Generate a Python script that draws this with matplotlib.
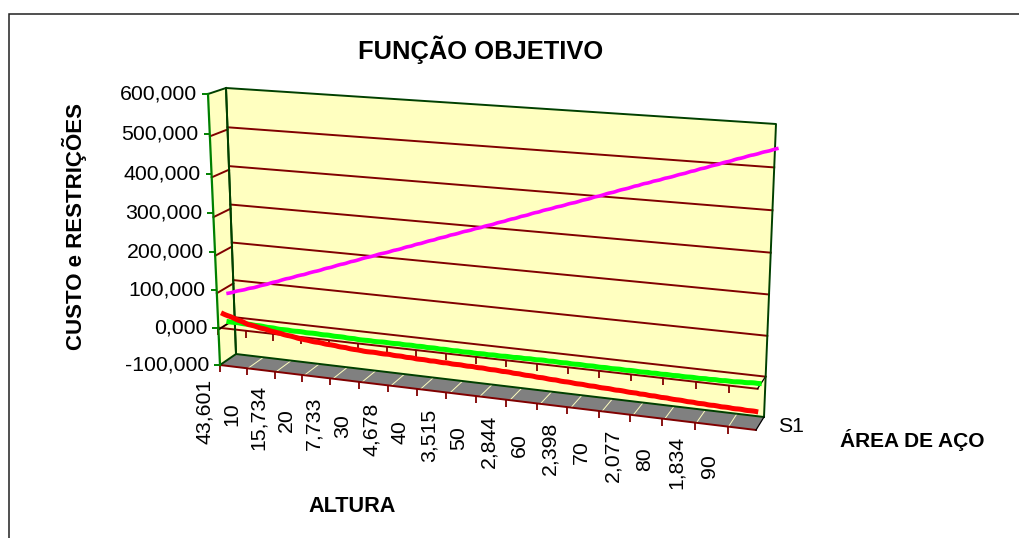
import numpy as np
import matplotlib
matplotlib.use("Agg")
import matplotlib.pyplot as plt
from matplotlib.transforms import Transform
from matplotlib.patches import Rectangle

plt.rcParams['font.family'] = ['Liberation Sans', 'DejaVu Sans']

x_max = 17.85
y_min, y_max = -100, 600

# data
x_labels = ["43,601", "10", "15,734", "20", "7,733", "30", "4,678", "40", "3,515",
            "50", "2,844", "60", "2,398", "70", "2,077", "80", "1,834", "90"]
y_values = [-100, 0, 100, 200, 300, 400, 500, 600]
y_labels = ["-100,000", "0,000", "100,000", "200,000", "300,000", "400,000", "500,000", "600,000"]
ticks = np.arange(18)
categories = [0, 1, 2, 3, 4, 5, 6, 7, 8, 9, 10, 11, 12, 13, 14, 15, 16, 17, 17.85]
categories_custo = [-0.15, 1, 2, 3, 4, 5, 6, 7, 8, 9, 10, 11, 12, 13, 14, 15, 16, 17, 18]
custo = [68, 95, 122, 148, 175, 202, 228, 255, 282, 308, 335, 362, 388, 415, 442, 468, 495, 522, 548]
restricao_1 = [3, 1.4, -2.2, -3, -4, -6, -5.3, -5.8, -6.6, -6.9, -6.4, -5.5, -6, -6.5, -6.6, -6.4, -6.2, -5, -2]
restricao_2 = [34, 11, -2, -12.8, -18.8, -24.5, -26, -29, -31, -33, -36, -40, -44, -47.5, -51, -54.5, -58, -60.5, -62]

# where the corners of the 3d box land on the image (pixels)
corner = {
    "front": {"bl": (220, 365), "br": (756, 430), "tl": (208, 94), "tr": (768, 130)},
    "back": {"bl": (236, 354), "br": (764, 417), "tl": (226, 88), "tr": (776, 124)},
}


class Quad(Transform):
    """projective map of a rectangle (x0,x1)x(y0,y1) on to a quad"""
    input_dims = 2
    output_dims = 2

    def __init__(self, bl, br, tl, tr, xr, yr):
        super().__init__()
        self.xr, self.yr = xr, yr
        a, b = [], []
        for (u, v), (px, py) in zip([(0, 0), (1, 0), (0, 1), (1, 1)], [bl, br, tl, tr]):
            a.append([u, v, 1, 0, 0, 0, -u * px, -v * px])
            a.append([0, 0, 0, u, v, 1, -u * py, -v * py])
            b += [px, py]
        self.h = np.append(np.linalg.solve(np.array(a, float), np.array(b, float)), 1).reshape(3, 3)

    def transform_non_affine(self, values):
        values = np.asarray(values, float)
        u = (values[:, 0] - self.xr[0]) / (self.xr[1] - self.xr[0])
        v = (values[:, 1] - self.yr[0]) / (self.yr[1] - self.yr[0])
        p = self.h @ np.vstack([u, v, np.ones_like(u)])
        return (p[:2] / p[2]).T


def mix(a, b, d):
    return (a[0] + (b[0] - a[0]) * d, a[1] + (b[1] - a[1]) * d)


def plane(d):
    # (category, value) at depth d, 0 is front and 1 is back
    f, b = corner["front"], corner["back"]
    q = Quad(mix(f["bl"], b["bl"], d), mix(f["br"], b["br"], d), mix(f["tl"], b["tl"], d),
             mix(f["tr"], b["tr"], d), (0, x_max), (y_min, y_max))
    return q + ax.transData


def side(c):
    # (depth, value) at category end c ("l" or "r")
    f, b = corner["front"], corner["back"]
    q = Quad(f["b" + c], b["b" + c], f["t" + c], b["t" + c], (0, 1), (y_min, y_max))
    return q + ax.transData


def floor():
    # (category, depth) at the bottom of the box
    f, b = corner["front"], corner["back"]
    q = Quad(f["bl"], f["br"], b["bl"], b["br"], (0, x_max), (0, 1))
    return q + ax.transData


fig = plt.figure(figsize=(10.2, 5.38), dpi=100)
ax = fig.add_axes([0, 0, 1, 1])
ax.set_xlim(0, 1020)
ax.set_ylim(538, 0)
ax.axis("off")

wall = "#FFFFC0"
grid = "#800000"
dark = "#004000"
txt = "#000000"
lw = 1.4

# outer chart frame
fig.add_artist(Rectangle((9.5 / 1020, -0.1), 1.1, 1 - 14.5 / 538 + 0.1, transform=fig.transFigure,
                         fc="none", ec="#202020", lw=1.1))

# walls and floor
ax.fill([0, 1, 1, 0], [y_min, y_min, y_max, y_max], color=wall, lw=0, transform=side("l"), zorder=1)
ax.fill([0, x_max, x_max, 0], [y_min, y_min, y_max, y_max], color=wall, lw=0, transform=plane(1), zorder=1)
ax.fill([0, x_max, x_max, 0], [0, 0, 1, 1], color="#808080", lw=0, transform=floor(), zorder=1)

# grid lines
for v in y_values[1:-1]:
    ax.plot([0, x_max], [v, v], color=grid, lw=lw, transform=plane(1), zorder=2)
    ax.plot([0, 1], [v, v], color=grid, lw=lw, transform=side("l"), zorder=2)
for c in ticks[1:]:
    ax.plot([c, c], [0, 1], color="#FFFFC0", lw=0.7, transform=floor(), zorder=2)

# category axes, on the floor and at value 0
ax.plot([0, x_max], [y_min, y_min], color=grid, lw=lw, transform=plane(0), zorder=3)
ax.plot([0, x_max], [0, 0], color=grid, lw=lw, transform=plane(0), zorder=3)
ax.plot(ticks, [y_min] * 18, ls="", marker=3, ms=5, mew=1.3, color=grid, transform=plane(0), zorder=3)
ax.plot(ticks, [0] * 18, ls="", marker=3, ms=5, mew=1.3, color=grid, transform=plane(0), zorder=3)

# the series
l1, = ax.plot(categories_custo, custo, color="#FF00FF", lw=2.6, transform=plane(0.8), zorder=5, solid_capstyle="butt")
l2, = ax.plot(categories, restricao_1, color="#00FF00", lw=3.6, transform=plane(0.5), zorder=5, solid_capstyle="butt")
l3, = ax.plot(categories, restricao_2, color="#FF0000", lw=3.6, transform=plane(0.2), zorder=6, solid_capstyle="butt")
for line in (l1, l2, l3):
    line.set_sketch_params(0.15, 14, 2)

# box edges
ax.plot([0, 0, x_max, x_max], [y_min, y_max, y_max, y_min], color=dark, lw=lw, transform=plane(1), zorder=4)
ax.plot([0, x_max], [y_min, y_min], color=dark, lw=lw, transform=plane(1), zorder=4)
ax.plot([0, 1, 1], [y_min, y_min, y_max], color=dark, lw=lw, transform=side("l"), zorder=4)
ax.plot([0, 1], [y_max, y_max], color=dark, lw=lw, transform=side("l"), zorder=4)
ax.plot([0, 0], [y_min, y_max], color="#008000", lw=1.6, transform=plane(0), zorder=4)
ax.plot([0, 1], [0, 0], color="black", lw=0.9, transform=side("l"), zorder=3)
ax.plot([0, 1], [0, 0], color="black", lw=0.9, transform=side("r"), zorder=3)
ax.plot([0, 1], [y_min, y_min], color="black", lw=0.9, transform=side("r"), zorder=4)

# value axis ticks and labels
ax.plot([0] * 8, y_values, ls="", marker=0, ms=4, mew=1.4, color="#008000", transform=plane(0), zorder=4)
for v, lab in zip(y_values, y_labels):
    ax.annotate(lab, xy=(0, v), xycoords=plane(0), xytext=(-11, 0), textcoords="offset pixels",
                ha="right", va="center", fontsize=15.3, color=txt)

# category labels, they sit between the ticks
for i, lab in enumerate(x_labels):
    ax.annotate(lab, xy=(i - 0.5, y_min), xycoords=plane(0), xytext=(-2, -48 + 0.4 * i), textcoords="offset pixels",
                ha="center", va="center", rotation=90, fontsize=15.3, color=txt)

ax.text(481, 50, "FUNÇÃO OBJETIVO", ha="center", va="center", fontsize=18.4, fontweight="bold", color=txt)
ax.text(74, 226, "CUSTO e RESTRIÇÕES", ha="center", va="center", rotation=90, fontsize=16, fontweight="bold", color=txt)
ax.text(352, 507, "ALTURA", ha="center", va="center", fontsize=15.6, fontweight="bold", color=txt)
ax.text(912, 440, "ÁREA DE AÇO", ha="center", va="center", fontsize=15, fontweight="bold", color=txt)
ax.text(778, 426, "S1", ha="left", va="center", fontsize=15.3, color=txt)

fig.savefig("out.png", dpi=100)
